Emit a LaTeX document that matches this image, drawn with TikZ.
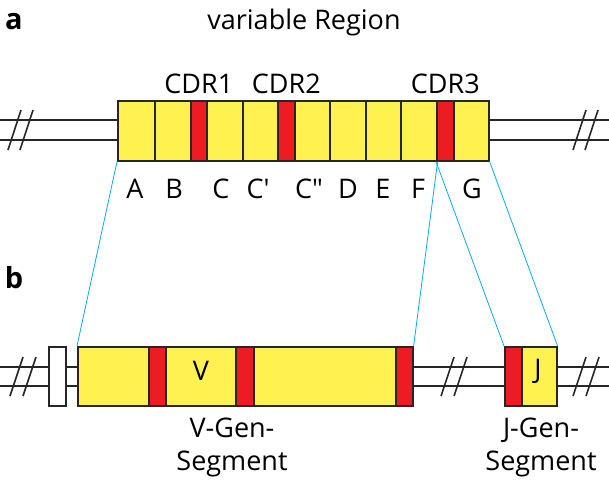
\documentclass[tikz,border=0pt]{standalone}
\usepackage{fontspec}
\setmainfont[Ligatures=NoCommon]{Open Sans}
\usetikzlibrary{positioning}
\definecolor{segyellow}{RGB}{255,242,80}
\definecolor{cdrred}{RGB}{237,28,36}
\definecolor{linkblue}{RGB}{0,174,239}
\begin{document}
\begin{tikzpicture} [
        x=1pt, y=-1pt,
        seg/.style={draw=black!85, line width=1.6pt, fill=segyellow, inner sep=0pt},
        cdr/.style={seg, fill=cdrred},
        strand/.style={draw=black!85, line width=1.6pt},
        link/.style={draw=linkblue, line width=0.8pt},
        lbl/.style={font=\fontsize{27}{33}\selectfont, inner sep=0pt} ]
    \useasboundingbox (0,0) rectangle (609,479);
    % strands
    \foreach \y in {120,140} \draw[strand] (0,\y) -- (609,\y);
    \foreach \y in {367,386} \draw[strand] (0,\y) -- (609,\y);
    \foreach \x in {8,20,573,585} \draw[strand] (\x,150) -- (\x+13,110);
    \foreach \x in {10,23,441,454,573,586} \draw[strand] (\x,396) -- (\x+13,357);
    % top row
    \foreach \a/\b/\s/\n in {117/154/seg/A, 154/190/seg/B, 190/206/cdr/r1, 206/242/seg/C,
        242/277/seg/Cp, 277/294/cdr/r2, 294/329/seg/Cpp, 329/365/seg/D, 365/400/seg/E,
        400/436/seg/F, 436/453/cdr/r3, 453/488/seg/G}
        \path (\a,100) node[\s, anchor=north west, minimum width=\b-\a, minimum height=60] (\n) {};
    % bottom row
    \path (48,346) node[seg, fill=white, anchor=north west, minimum width=17, minimum height=59] (leader) {};
    \foreach \a/\b/\s/\n in {77/148/seg/v1, 148/165/cdr/vr1, 165/235/seg/v2, 235/253/cdr/vr2,
        253/395/seg/v3, 395/412/cdr/vr3, 504/521/cdr/jr, 521/556/seg/j}
        \path (\a,346) node[\s, anchor=north west, minimum width=\b-\a, minimum height=59] (\n) {};
    % labels
    \node[lbl, font=\fontsize{29}{33}\selectfont\bfseries] (la) at (14,22) {a};
    \node[lbl, font=\fontsize{29}{33}\selectfont\bfseries] (lb) at (14,278) {b};
    \node[lbl] (title) at (304,22) {variable Region};
    \node[lbl, above=6pt of r1] {CDR1};
    \node[lbl, above=6pt of r2] {CDR2};
    \node[lbl, above=6pt of r3] {CDR3};
    \foreach \x/\t in {135/A, 174/B, 221/C, 258/C\textquotesingle, 309/C\textquotedbl, 348/D, 383/E, 418/F, 472/G}
        \node[lbl] at (\x,189) {\t};
    \node[lbl] at (201,371) {V};
    \node[lbl] at (538,371) {J};
    \node[lbl, align=center] at (232,447) {V-Gen-\\Segment};
    \node[lbl, align=center] at (541,447) {J-Gen-\\Segment};
    % links
    \draw[link] (A.south west) -- (v1.north west);
    \draw[link] (F.south east) -- (vr3.north east);
    \draw[link] (r3.south west) -- (jr.north west);
    \draw[link] (G.south east) -- (j.north east);
\end{tikzpicture}
\end{document}
